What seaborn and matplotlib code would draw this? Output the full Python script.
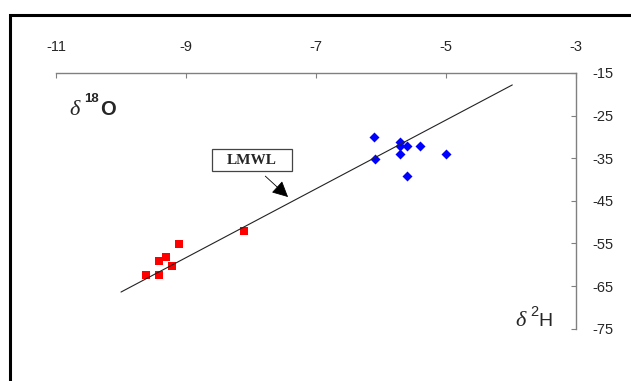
import pandas as pd
import seaborn as sns
import matplotlib.pyplot as plt
from matplotlib.patches import Rectangle

# red squares (one group) and blue diamonds (other group)
red_d18o = [-9.62, -9.41, -9.41, -9.31, -9.22, -9.11, -8.11]
red_d2h = [-62.3, -62.3, -59.1, -58.1, -60.2, -55.2, -52.0]
blue_d18o = [-6.11, -6.10, -5.71, -5.71, -5.60, -5.71, -5.40, -5.00, -5.60]
blue_d2h = [-30.1, -35.1, -31.2, -32.1, -32.1, -34.1, -32.1, -34.1, -39.2]

# local meteoric water line, end points
lmwl_x = [-10.0, -3.98]
lmwl_y = [-66.4, -17.8]

x_ticks = [-11, -9, -7, -5, -3]
y_ticks = [-15, -25, -35, -45, -55, -65, -75]

red = pd.DataFrame({'d18O': red_d18o, 'd2H': red_d2h})
blue = pd.DataFrame({'d18O': blue_d18o, 'd2H': blue_d2h})

sns.set_style('white')
plt.rcParams['font.family'] = ['Liberation Sans', 'DejaVu Sans']
plt.rcParams['axes.unicode_minus'] = False

W, H = 631, 381
fig = plt.figure(figsize=(W / 100, H / 100), dpi=100)
ax = fig.add_axes([56 / W, 1 - 328.7 / H, 520 / W, 255.7 / H])

ax.plot(lmwl_x, lmwl_y, color='#222222', lw=0.8)
sns.scatterplot(data=red, x='d18O', y='d2H', marker='s', color='#ff0000',
                s=28, linewidth=0, ax=ax)
sns.scatterplot(data=blue, x='d18O', y='d2H', marker='D', color='#0000ff',
                s=26, linewidth=0, ax=ax)

ax.set_xlim(-11, -3)
ax.set_ylim(-75, -15)
ax.set_xticks(x_ticks)
ax.set_yticks(y_ticks)
ax.set_xlabel('')
ax.set_ylabel('')

for side in ['left', 'bottom']:
    ax.spines[side].set_visible(False)
for side in ['top', 'right']:
    ax.spines[side].set_visible(True)
    ax.spines[side].set_color('#808080')
    ax.spines[side].set_linewidth(1)

ax.xaxis.set_ticks_position('top')
ax.yaxis.set_ticks_position('right')
ax.tick_params(axis='x', direction='in', length=3.5, width=0.8, color='#808080',
               labelsize=10.5, pad=14, labeltop=True, labelbottom=False)
ax.tick_params(axis='y', direction='in', length=3.5, width=0.8, color='#808080',
               labelsize=10.5, pad=12, labelright=True, labelleft=False)

# LMWL label with box and arrow
ax.add_patch(Rectangle((-7.985 - 0.615, -35.4 - 2.58), 1.23, 5.16,
                       fill=False, edgecolor='#444444', lw=0.9))
ax.text(-7.985, -35.6, 'LMWL', ha='center', va='center', fontsize=11,
        fontweight='bold', family='Liberation Serif')
ax.annotate('', xy=(-7.43, -44.1), xytext=(-7.78, -39.2),
            arrowprops=dict(arrowstyle='-|>,head_length=0.7,head_width=0.35',
                            color='black', lw=0.6,
                            mutation_scale=14, shrinkA=0, shrinkB=0))


def ftext(px, py, s, **kw):
    fig.text(px / W, 1 - py / H, s, va='baseline', **kw)


# axis titles built from pieces
ftext(69, 115, 'δ', fontsize=16, family='Liberation Serif', style='italic')
ftext(84.5, 101.5, '18', fontsize=9.5, fontweight='bold')
ftext(100, 115, 'O', fontsize=14.5, fontweight='bold')

ftext(515, 326.5, 'δ', fontsize=16, family='Liberation Serif', style='italic')
ftext(530, 316.5, '2', fontsize=10.5)
ftext(538.5, 326.5, 'H', fontsize=14)

# outer frame (cut off at the right and bottom)
fig.patches.append(Rectangle((10 / W, -0.2), 1.2, 1 - 15 / H + 0.2,
                             transform=fig.transFigure, fill=False,
                             edgecolor='black', lw=2.2))

fig.savefig('out.png', dpi=100)
